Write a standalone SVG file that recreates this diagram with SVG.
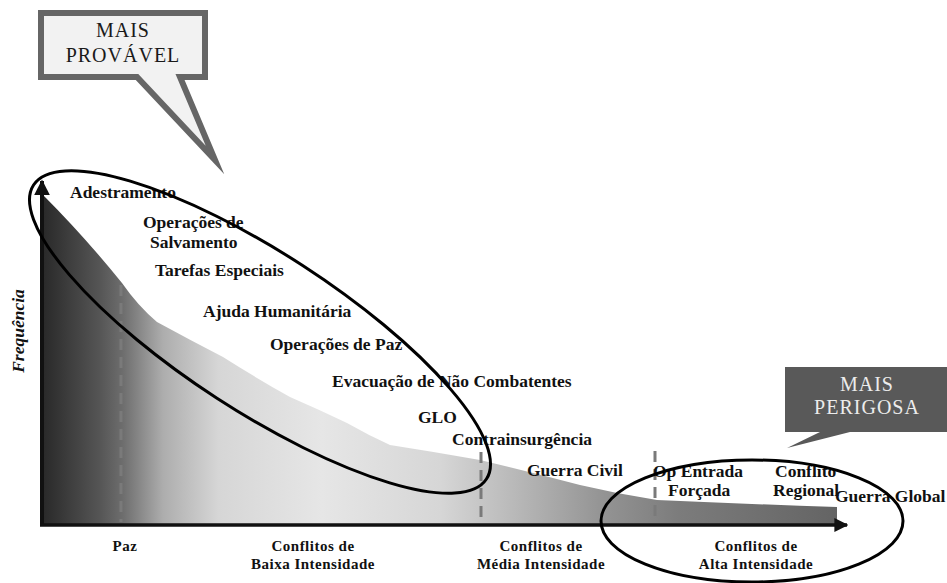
<svg xmlns="http://www.w3.org/2000/svg" width="947" height="583" viewBox="0 0 947 583">
<defs>
<linearGradient id="areaGrad" gradientUnits="userSpaceOnUse" x1="44" y1="0" x2="837" y2="0">
<stop offset="0" stop-color="#2a2a2a"/>
<stop offset="0.07" stop-color="#555555"/>
<stop offset="0.10" stop-color="#6e6e6e"/>
<stop offset="0.15" stop-color="#adadad"/>
<stop offset="0.22" stop-color="#d6d6d6"/>
<stop offset="0.35" stop-color="#e6e6e6"/>
<stop offset="0.50" stop-color="#d6d6d6"/>
<stop offset="0.58" stop-color="#bdbdbd"/>
<stop offset="0.70" stop-color="#959595"/>
<stop offset="0.80" stop-color="#7c7c7c"/>
<stop offset="1" stop-color="#646464"/>
</linearGradient>
<marker id="arrow" viewBox="0 0 10 10" refX="9" refY="5" markerWidth="4" markerHeight="4" orient="auto" markerUnits="strokeWidth">
<path d="M0,0 L10,5 L0,10 Z" fill="#111"/>
</marker>
</defs>
<style>
.lbl{font-family:"Liberation Serif","Times New Roman",serif;font-weight:bold;font-size:17.5px;fill:#111}
.ax{font-family:"Liberation Serif","Times New Roman",serif;font-weight:bold;font-size:15px;letter-spacing:0.5px;fill:#111;text-anchor:middle}
.dash{stroke:#7a7a7a;stroke-width:3;stroke-dasharray:11 7;fill:none}
.ring{fill:none;stroke:#000;stroke-width:3}
.call{font-family:"Liberation Serif","Times New Roman",serif;font-size:20px;letter-spacing:1px;text-anchor:middle}
</style>
<rect width="947" height="583" fill="#ffffff"/>
<g id="area">
<path d="M44,524 L44,196 Q84,236 122,283 Q138,306 157,322 Q190,340 223,357 Q256,378 290,397 Q320,410 347,423 Q368,435 390,445 Q435,452 480,460 Q530,472 580,485 Q618,494 657,500 Q747,504 837,507 L837,524 Z" fill="url(#areaGrad)"/>
</g>
<g id="connectors">
<line class="dash" x1="121" y1="285" x2="121" y2="522"/>
<line class="dash" x1="481" y1="452" x2="481" y2="522"/>
<line class="dash" x1="655" y1="451" x2="655" y2="518"/>
<line x1="42" y1="526" x2="42" y2="181" stroke="#111" stroke-width="4" marker-end="url(#arrow)"/>
<line x1="40" y1="525" x2="847" y2="525" stroke="#111" stroke-width="3.5" marker-end="url(#arrow)"/>
</g>
<g id="axis-labels">
<text class="lbl" transform="translate(24,331) rotate(-90)" text-anchor="middle" font-style="italic" font-size="15.5">Frequência</text>
<text class="ax" x="125" y="551">Paz</text>
<text class="ax" x="313" y="551">Conflitos de</text>
<text class="ax" x="313" y="569">Baixa Intensidade</text>
<text class="ax" x="541" y="551">Conflitos de</text>
<text class="ax" x="541" y="569">Média Intensidade</text>
<text class="ax" x="756" y="551">Conflitos de</text>
<text class="ax" x="756" y="569">Alta Intensidade</text>
</g>
<g id="operations">
<text class="lbl" x="70" y="198">Adestramento</text>
<text class="lbl" x="143" y="228">Operações de</text>
<text class="lbl" x="150" y="248">Salvamento</text>
<text class="lbl" x="155" y="276">Tarefas Especiais</text>
<text class="lbl" x="203" y="317">Ajuda Humanitária</text>
<text class="lbl" x="270" y="350">Operações de Paz</text>
<text class="lbl" x="332" y="387">Evacuação de Não Combatentes</text>
<text class="lbl" x="418" y="423">GLO</text>
<text class="lbl" x="452" y="445">Contrainsurgência</text>
<text class="lbl" x="527" y="476">Guerra Civil</text>
<text class="lbl" x="653" y="477">Op Entrada</text>
<text class="lbl" x="668" y="496">Forçada</text>
<text class="lbl" x="775" y="477">Conflito</text>
<text class="lbl" x="773" y="496">Regional</text>
<text class="lbl" x="835" y="502">Guerra Global</text>
</g>
<g id="ellipse-provavel">
<ellipse class="ring" cx="260" cy="332" rx="270" ry="79" transform="rotate(33 260 332)"/>
</g>
<g id="ellipse-perigosa">
<ellipse class="ring" cx="752" cy="521" rx="151" ry="61"/>
</g>
<g id="callout-provavel">
<path d="M41,13 H205 V77 H180 L215,160 L137,77 H41 Z" fill="#f2f2f2" stroke="#666666" stroke-width="6" stroke-linejoin="miter" stroke-miterlimit="12"/>
<text class="call" x="123" y="37" fill="#1a1a1a">MAIS</text>
<text class="call" x="123" y="62" fill="#1a1a1a">PROVÁVEL</text>
</g>
<g id="callout-perigosa">
<path d="M785,367 H949 V432 H850 L787,448 L820,432 H785 Z" fill="#595959"/>
<text class="call" x="867" y="391" fill="#ececec">MAIS</text>
<text class="call" x="867" y="414" fill="#ececec">PERIGOSA</text>
</g>
</svg>
